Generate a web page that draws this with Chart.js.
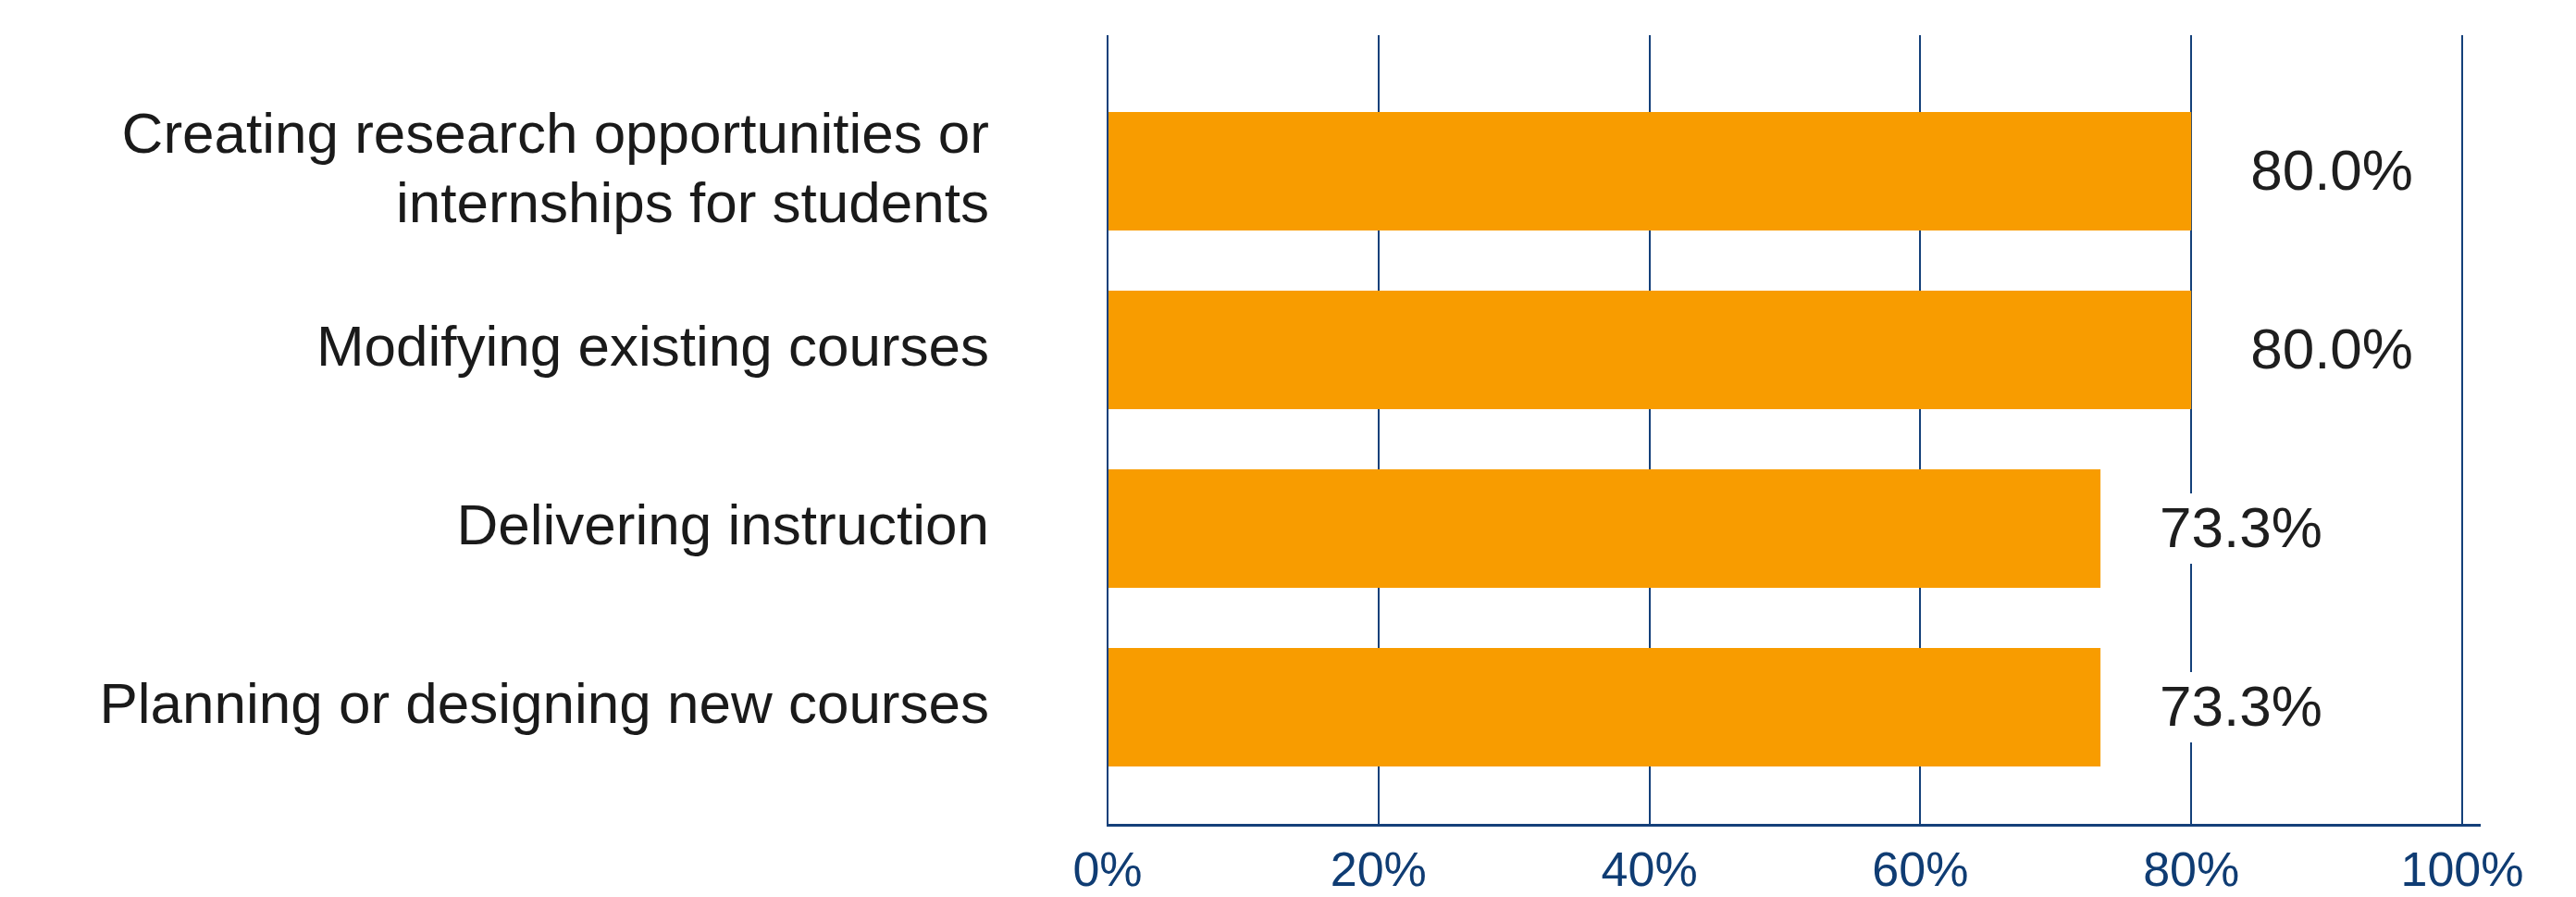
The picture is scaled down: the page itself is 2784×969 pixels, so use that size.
<!DOCTYPE html>
<html>
<head>
<meta charset="utf-8">
<script src="https://cdn.jsdelivr.net/npm/chart.js@4.4.1/dist/chart.umd.min.js"></script>
<style>
  html, body { margin: 0; padding: 0; background: #fff; }
  #wrap { width: 2784px; height: 969px; position: relative; }
</style>
</head>
<body>
<div id="wrap"><canvas id="chart"></canvas></div>
<script>
// Chart data
var categories = [
    ['Creating research opportunities or', 'internships for students'],
    'Modifying existing courses',
    'Delivering instruction',
    'Planning or designing new courses'
];
var shares = [80.0, 80.0, 73.3, 73.3];
var xTicks = [0, 20, 40, 60, 80, 100];

var NAVY = '#14407a';
var FONT = '"Liberation Sans", Arial, sans-serif';

/**
 * Draw the value next to each bar on a white box
 */
var valueLabels = {
    id: 'valueLabels',
    afterDatasetsDraw: function(chart) {
        var ctx = chart.ctx;
        var meta = chart.getDatasetMeta(0);
        ctx.save();
        ctx.font = '62px ' + FONT;
        ctx.textBaseline = 'middle';
        ctx.textAlign = 'left';
        meta.data.forEach(function(bar, i) {
            var text = shares[i].toFixed(1) + '%';
            var w = ctx.measureText(text).width;
            var x = bar.x + 64;
            ctx.fillStyle = '#fff';
            ctx.fillRect(x - 10, bar.y - 38, w + 20, 76);
            ctx.fillStyle = '#1e1e1e';
            ctx.fillText(text, x, bar.y + 3);
        });
        ctx.restore();
    }
};

new Chart(document.getElementById('chart'), {
    type: 'bar',
    data: {
        datasets: [{
            data: shares.map(function(v, i) { return { x: v, y: i }; }),
            backgroundColor: '#f89c00',
            borderWidth: 0,
            categoryPercentage: 1,
            barPercentage: 0.663
        }]
    },
    options: {
        indexAxis: 'y',
        responsive: true,
        maintainAspectRatio: false,
        animation: false,
        events: [],
        layout: {
            padding: { top: 38, right: 104, left: 0, bottom: 0 }
        },
        plugins: {
            legend: { display: false },
            tooltip: { enabled: false }
        },
        scales: {
            x: {
                type: 'linear',
                position: 'bottom',
                min: 0,
                max: 101.3,
                afterBuildTicks: function(scale) {
                    scale.ticks = xTicks.map(function(v) { return { value: v }; });
                },
                afterFit: function(scale) {
                    scale.height = 78;
                    scale.paddingLeft = 0;
                    scale.paddingRight = 0;
                },
                ticks: {
                    padding: 20,
                    color: '#0f3c73',
                    font: { family: FONT, size: 52 },
                    callback: function(value) {
                        return value + '%';
                    }
                },
                grid: {
                    color: NAVY,
                    lineWidth: 2,
                    drawTicks: false
                },
                border: {
                    color: NAVY,
                    width: 3
                }
            },
            y: {
                type: 'linear',
                reverse: true,
                offset: false,
                min: -0.762,
                max: 3.658,
                afterBuildTicks: function(scale) {
                    scale.ticks = categories.map(function(c, i) { return { value: i }; });
                },
                afterFit: function(scale) {
                    scale.width = 1197;
                    scale.paddingTop = 0;
                    scale.paddingBottom = 0;
                },
                ticks: {
                    padding: 128,
                    color: '#1a1a1a',
                    font: { family: FONT, size: 62, lineHeight: 1.21 },
                    callback: function(value) {
                        return categories[value];
                    }
                },
                grid: {
                    display: false,
                    drawTicks: false
                },
                border: {
                    display: false
                }
            }
        }
    },
    plugins: [valueLabels]
});
</script>
</body>
</html>
